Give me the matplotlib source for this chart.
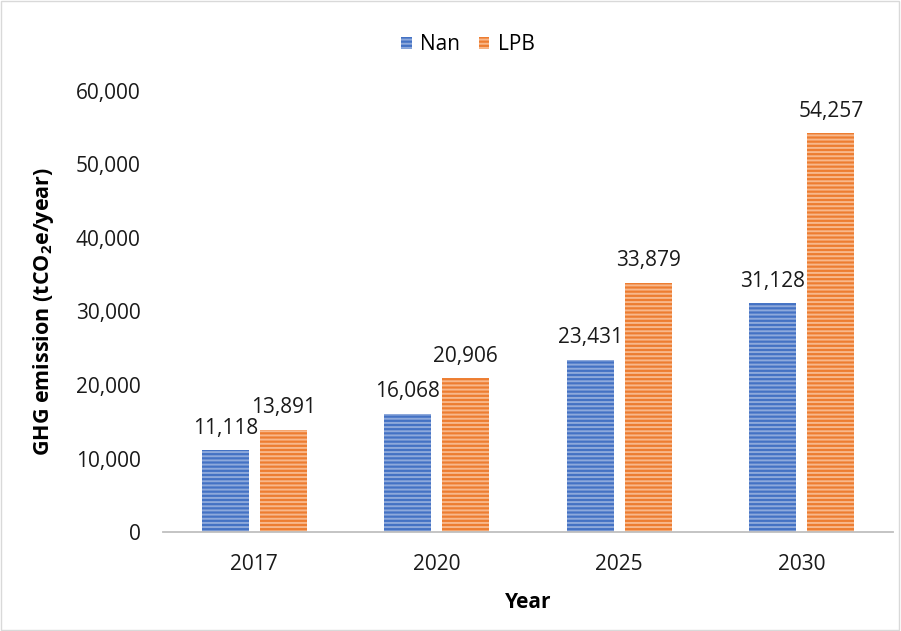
import matplotlib
matplotlib.use("Agg")
import matplotlib.pyplot as plt
import numpy as np
from matplotlib.ticker import FuncFormatter

years = ["2017", "2020", "2025", "2030"]
nan_vals = [11118, 16068, 23431, 31128]
lpb_vals = [13891, 20906, 33879, 54257]
series_names = ["Nan", "LPB"]

plt.rcParams['font.family'] = ['Open Sans', 'DejaVu Sans']
plt.rcParams['mathtext.fontset'] = 'custom'
plt.rcParams['mathtext.rm'] = 'Open Sans'
plt.rcParams['mathtext.bf'] = 'Open Sans:bold'
plt.rcParams['hatch.linewidth'] = 1.4

W, H = 901, 631
fig = plt.figure(figsize=(W / 100, H / 100), dpi=100)
left, right, top, bottom = 163, 893, 91, 532
ax = fig.add_axes([left / W, 1 - bottom / H, (right - left) / W, (bottom - top) / H])

x = np.arange(len(years))
w = 0.258
gap = 0.06
off = (w + gap) / 2
blue, blue_h = '#4472C4', '#8EA9DB'
orange, orange_h = '#ED7D31', '#F8B88B'

b1 = ax.bar(x - off, nan_vals, w, color=blue, edgecolor=blue_h, linewidth=0, hatch='----', label=series_names[0])
b2 = ax.bar(x + off, lpb_vals, w, color=orange, edgecolor=orange_h, linewidth=0, hatch='----', label=series_names[1])

for bars, vals in ((b1, nan_vals), (b2, lpb_vals)):
    for r, v in zip(bars, vals):
        ax.annotate(f"{v:,}", (r.get_x() + r.get_width() / 2, v), xytext=(0, 12), textcoords='offset points',
                    ha='center', va='baseline', fontsize=15, color='#1a1a1a')

ax.set_xlim(-0.5, 3.5)
ax.set_ylim(0, 60000)
ax.set_yticks(np.arange(0, 60001, 10000))
ax.yaxis.set_major_formatter(FuncFormatter(lambda v, p: f"{int(v):,}"))
ax.set_xticks(x)
ax.set_xticklabels(years)
ax.tick_params(axis='both', length=0, labelsize=15, colors='#1a1a1a')
ax.tick_params(axis='x', pad=16)
ax.tick_params(axis='y', pad=16)
for s in ('top', 'right', 'left'):
    ax.spines[s].set_visible(False)
ax.spines['bottom'].set_color('#BFBFBF')
ax.spines['bottom'].set_linewidth(1.3)

ax.set_xlabel("Year", fontsize=15, fontweight='bold', labelpad=12)
ax.set_ylabel(r"GHG emission (tCO$_\mathbf{2}$e/year)", fontsize=15.5, fontweight='bold')
ax.yaxis.set_label_coords((56 - left) / (right - left), 0.5)

leg = fig.legend(handles=[b1, b2], labels=series_names, loc='center', bbox_to_anchor=(468 / W, 1 - 45 / H), ncol=2,
                 frameon=False, fontsize=15, handlelength=0.5, handleheight=0.5, columnspacing=0.9, handletextpad=0.4)

fig.patches.append(matplotlib.patches.Rectangle((0.001, 0.001), 0.997, 0.997, transform=fig.transFigure,
                                                fill=False, edgecolor='#D9D9D9', linewidth=1))

fig.savefig("out.png", dpi=100)
